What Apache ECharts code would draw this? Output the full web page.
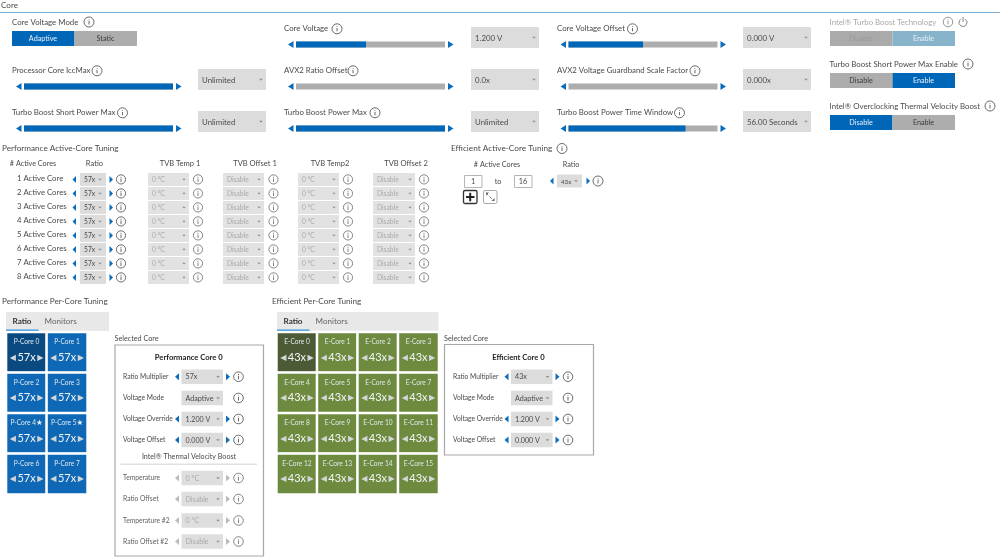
<!DOCTYPE html>
<html><head><meta charset="utf-8">
<style>html,body{margin:0;padding:0;background:#fff}#c{width:1000px;height:560px;filter:blur(.4px)}</style>
<script src="https://cdn.jsdelivr.net/npm/echarts@6/dist/echarts.min.js"></script>
</head><body><div id="c"></div>
<script>
// ---------- content ----------
const sliderNames = ['Core Voltage','Processor Core IccMax','AVX2 Ratio Offset','Turbo Boost Short Power Max','Turbo Boost Power Max','Core Voltage Offset','AVX2 Voltage Guardband Scale Factor','Turbo Boost Power Time Window'];
const sliderFill = [47,100,0,100,100,50,0,78.5];
const sliderChoice = ['1.200 V','Unlimited','0.0x','Unlimited','Unlimited','0.000 V','0.000x','56.00 Seconds'];
const toggleNames = ['Intel® Turbo Boost Technology','Turbo Boost Short Power Max Enable','Intel® Overclocking Thermal Velocity Boost'];
const activeCoreNames = ['1 Active Core','2 Active Cores','3 Active Cores','4 Active Cores','5 Active Cores','6 Active Cores','7 Active Cores','8 Active Cores'];
const activeCoreRatios = ['57x','57x','57x','57x','57x','57x','57x','57x'];
const activeHeaders = ['TVB Temp 1','TVB Offset 1','TVB Temp2','TVB Offset 2'];
const activeDisabled = ['0 °C','Disable','0 °C','Disable'];
const pCoreNames = ['P-Core 0','P-Core 1','P-Core 2','P-Core 3','P-Core 4★','P-Core 5★','P-Core 6','P-Core 7'];
const pCoreRatios = [57,57,57,57,57,57,57,57];
const eCoreNames = ['E-Core 0','E-Core 1','E-Core 2','E-Core 3','E-Core 4','E-Core 5','E-Core 6','E-Core 7','E-Core 8','E-Core 9','E-Core 10','E-Core 11','E-Core 12','E-Core 13','E-Core 14','E-Core 15'];
const eCoreRatios = [43,43,43,43,43,43,43,43,43,43,43,43,43,43,43,43];
const panelRowNames = ['Ratio Multiplier','Voltage Mode','Voltage Override','Voltage Offset'];
const tvbRowNames = ['Temperature','Ratio Offset','Temperature #2','Ratio Offset #2'];
const tvbRowValues = ['0 °C','Disable','0 °C','Disable'];

// ---------- layout and style ----------
const FONT = 'Lato,"Noto Sans",sans-serif', FS=.87;
const BLUE='#0067b8', GREY='#adadad', DROP='#dcdcdc', INK='#4a4a4a', FAINT='#a8a8a8', ARROW='#0a6cbc';
const els=[];
const T=(s,x,y,o={})=>els.push({type:'text',silent:true,z:10,style:{text:s,x,y,fill:o.c||INK,textAlign:o.a||'left',textVerticalAlign:'middle',font:`${o.w||'normal'} ${(o.s||9)*FS}px ${FONT}`}});
const R=(x,y,w,h,fill,o={})=>els.push({type:'rect',silent:true,z:o.z||2,shape:{x,y,width:w,height:h,r:o.r||0},style:{fill,stroke:o.stroke||null,lineWidth:o.lw||1}});
const P=(pts,fill)=>els.push({type:'polygon',silent:true,z:4,shape:{points:pts},style:{fill}});
const L=(x,y,dir,h,w,fill)=>P(dir<0?[[x,y],[x+w,y-h/2],[x+w,y+h/2]]:[[x+w,y],[x,y-h/2],[x,y+h/2]],fill);
const I=(cx,cy,r=5,c='#5a5a5a')=>{
  els.push({type:'circle',silent:true,z:4,shape:{cx,cy,r},style:{fill:'#fff',stroke:c,lineWidth:.9}});
  R(cx-.45,cy-.9,.9,3.4,c,{z:5}); R(cx-.45,cy-2.6,.9,.9,c,{z:5});
};
const Drop=(x,cy,w,h,s,o={})=>{
  R(x,cy-h/2,w,h,o.fill||DROP);
  T(s,x+(o.pad||4),cy+.5,{c:o.c||INK,s:o.s||9});
  const k=x+w-(o.car||7.5);
  P([[k-1.7,cy-.7],[k+1.7,cy-.7],[k,cy+1.2]],o.carc||'#8d8d8d');
};
const Toggle=(x,y,a,b,on,o={})=>{
  const c=o.disabled;
  R(x,y,62.5,15,on===0?BLUE:(c?'#aaaaaa':GREY));
  R(x+62.5,y,62.5,15,on===1?(c?'#87b3cb':BLUE):GREY);
  T(a,x+31,y+7.8,{a:'center',c:on===0?'#e8f0f8':(c?'#999':'#3a3a3a'),s:8.3});
  T(b,x+93.5,y+7.8,{a:'center',c:on===1?'#e8f0f8':'#3a3a3a',s:8.3});
};

// header
T('Core',1,5,{s:9.3});
R(0,12,1000,1,'#7fb2dc');
T('Core Voltage Mode',12,22); I(89,22);
Toggle(12,31,'Adaptive','Static',0);

// sliders: anchors give label row, left of the bar, dropdown and info icon
const sliderAnchors=[
 {x:284,cy:28.5,bar:296,drop:471,info:337},
 {x:12,cy:70.5,bar:24,drop:198,info:97},
 {x:284,cy:70.5,bar:296,drop:471,info:353},
 {x:12,cy:112.5,bar:24,drop:198,info:122.5},
 {x:284,cy:112.5,bar:296,drop:471,info:375},
 {x:557,cy:28.5,bar:568.5,drop:743,info:632.5},
 {x:557,cy:70.5,bar:568.5,drop:743,info:695},
 {x:557,cy:112.5,bar:568.5,drop:743,info:679.5}];
const grids=[],xAxes=[],yAxes=[],series=[];
sliderNames.forEach((n,i)=>{
  const a=sliderAnchors[i], by=a.cy+16;
  T(n,a.x,a.cy); I(a.info,a.cy+.3);
  L(a.bar-8,by,-1,7,5.5,ARROW); L(a.bar+152,by,1,7,5.5,ARROW);
  Drop(a.drop,a.cy+9,68,21,sliderChoice[i],{car:5});
  grids.push({left:a.bar,top:by-3,width:149,height:6});
  xAxes.push({gridIndex:i,type:'value',min:0,max:100,show:false});
  yAxes.push({gridIndex:i,type:'category',data:[n],show:false});
  series.push({type:'bar',xAxisIndex:i,yAxisIndex:i,data:[sliderFill[i]],barWidth:6,silent:true,showBackground:true,backgroundStyle:{color:GREY},itemStyle:{color:BLUE},animation:false});
});

// toggles
T(toggleNames[0],829.5,22,{c:FAINT}); I(948,22,4.8,'#888');
els.push({type:'arc',silent:true,z:4,shape:{cx:963,cy:22.5,r:4,startAngle:-Math.PI/2+.6,endAngle:-Math.PI/2-.6+Math.PI*2},style:{stroke:'#777',fill:null,lineWidth:.9}});
R(962.6,17,.9,5,'#777',{z:5});
Toggle(830,31,'Disable','Enable',1,{disabled:true});
T(toggleNames[1],829.5,64); I(968,64);
Toggle(830,73,'Disable','Enable',1);
T(toggleNames[2],829.5,106); I(990,106);
Toggle(830,115,'Disable','Enable',0);

// performance active-core table
T('Performance Active-Core Tuning',2,148.5,{s:9.4});
T('# Active Cores',33,164,{a:'center',s:8.3});
T('Ratio',94.5,164,{a:'center',s:8.7});
const colX=[148,223,298,373], colW=[41,41,41,42], colInfo=[198,273.5,348,424], colHead=[180,255,330,406];
activeHeaders.forEach((h,i)=>T(h,colHead[i],164,{a:'center',s:8.7}));
activeCoreNames.forEach((n,r)=>{
  const cy=178.7+r*14;
  T(n,17,cy,{s:8.9});
  L(72.5,cy+.7,-1,7,3.5,ARROW); L(109.5,cy+.7,1,7,3.5,ARROW);
  Drop(80,cy+.7,26,13,activeCoreRatios[r],{s:7.7,car:6});
  I(121,cy+.7,4.6);
  activeDisabled.forEach((v,c)=>{
    Drop(colX[c],cy+.7,colW[c],13,v,{s:7.7,c:'#aaa',fill:'#e2e2e2',car:5});
    I(colInfo[c],cy+.7,4.6,'#777');
  });
});

// efficient active-core
T('Efficient Active-Core Tuning',451,148.5,{s:9.5}); I(562,148.5);
T('# Active Cores',497,165,{a:'center',s:8.3});
T('Ratio',571,165,{a:'center',s:8.3});
R(464.5,175.5,17.5,12,'#fff',{stroke:'#b5b5b5'}); T('1',473,181.5,{a:'center',s:8.3});
T('to',498,181.5,{a:'center',s:8.3});
R(514.5,175.5,17.5,12,'#fff',{stroke:'#b5b5b5'}); T('16',523,181.5,{a:'center',s:8.3});
L(550,181,-1,7,3.5,ARROW); L(586.5,181,1,7,3.5,ARROW);
Drop(557,181,25,13,'43x',{s:7.2,car:6}); I(598,181);
R(463.5,190.5,13.5,13,'#fff',{stroke:'#333',lw:1.3,r:1.5});
R(466,196,8.5,2,'#222',{z:5}); R(469.2,192.8,2,8.5,'#222',{z:5});
R(483.5,190.5,13.5,13,'#fff',{stroke:'#aaa',r:1.5});
els.push({type:'line',silent:true,z:5,shape:{x1:486,y1:193,x2:494,y2:201},style:{stroke:'#666',lineWidth:.9,lineDash:[3,2]}});
P([[486,192.5],[489,192.5],[486,195.5]],'#666'); P([[494.5,201],[491.5,201],[494.5,198]],'#666');

// per-core sections
function tabs(title,tx,x,w){
  T(title,tx,301.5,{s:9.4});
  R(x,312,w,19,'#e8e8e8');
  T('Ratio',x+6.5,321,{w:'700',s:9.3,c:'#333'});
  T('Monitors',x+38.5,321,{s:9.3,c:'#666'});
  R(x,329.5,32.5,1.3,'#2f95dd',{z:3});
}
tabs('Performance Per-Core Tuning',2,6,103);
tabs('Efficient Per-Core Tuning',272,277,161.5);

function panel(title,x,y,w,h){
  T('Selected Core',x,339,{s:8.3});
  R(x+.5,y,w,h,'#fff',{stroke:'#a8a8a8',lw:1.2,z:1});
  T(title,x+w/2,357.7,{a:'center',w:'700',s:8.8,c:'#222'});
}
function row(name,value,cy,lx,ax,o={}){
  T(name,lx,cy,{s:7.7,c:o.dim?'#5f5f5f':INK});
  const ac=o.dim?'#bbb':ARROW;
  if(!o.noArrows){L(ax,cy,-1,7,4,ac);L(ax+51,cy,1,7,4,ac);}
  Drop(ax+6.5,cy,41.5,14.5,value,{s:8.2,c:o.dim?'#aaa':INK,fill:o.dim?'#dedede':DROP,car:5});
  I(ax+63.5,cy,4.8,o.dim?'#777':'#5a5a5a');
}
panel('Performance Core 0',114.5,345,148.5,211);
[376.7,398,419,440].forEach((cy,i)=>row(panelRowNames[i],['57x','Adaptive','1.200 V','0.000 V'][i],cy,123,175,{noArrows:i===1}));
T('Intel® Thermal Velocity Boost',189,457,{a:'center',s:8.2});
R(120.5,463.7,136.5,.9,'#c4c4c4');
[478,499,520.5,541.5].forEach((cy,i)=>row(tvbRowNames[i],tvbRowValues[i],cy,123,175,{dim:true}));
panel('Efficient Core 0',444,344.5,149,110.5);
[376.7,398,419,440].forEach((cy,i)=>row(panelRowNames[i],['43x','Adaptive','1.200 V','0.000 V'][i],cy,453,504.5,{noArrows:i===1}));

// core tiles: heatmaps on category axes
function tiles(names,vals,cols,left,base,sel){
  const g=grids.length, rows=names.length/cols;
  grids.push({left,top:332.2,width:cols*40.5,height:rows*40.5});
  xAxes.push({gridIndex:g,type:'category',show:false,data:[...Array(cols).keys()]});
  yAxes.push({gridIndex:g,type:'category',show:false,inverse:true,data:[...Array(rows).keys()]});
  series.push({type:'heatmap',xAxisIndex:g,yAxisIndex:g,silent:true,animation:false,
    itemStyle:{borderColor:'#fff',borderWidth:2.5},
    data:vals.map((v,i)=>({value:[i%cols,Math.floor(i/cols),v],name:names[i],itemStyle:{color:i===0?sel:base,borderColor:'#fff',borderWidth:2.5}})),
    label:{show:true,offset:[0,-2],fontFamily:FONT,
      formatter:p=>{
        const nm=p.name.endsWith('★')?`{n|${p.name.slice(0,-1)}}{s|★}`:`{n|${p.name}}`;
        return `${nm}\n{a|◀}{v|${p.value[2]}x}{a|▶}`;
      },
      rich:{n:{fontSize:6.6,lineHeight:14,color:'#dfe7ee',fontFamily:FONT},
            s:{fontSize:7.5,lineHeight:14,color:'#eef2f5',fontFamily:'DejaVu Sans'},
            v:{fontSize:11,lineHeight:17,color:'#f4f6f8',fontFamily:FONT,padding:[0,1.5]},
            a:{fontSize:8,lineHeight:17,color:'#d2d6d8',fontFamily:'DejaVu Sans'}}}});
}
tiles(pCoreNames,pCoreRatios,2,6.3,'#0e68b5','#0b4a80');
tiles(eCoreNames,eCoreRatios,4,276.7,'#6d8a3e','#4d5a36');

const chart=echarts.init(document.getElementById('c'),null,{renderer:'canvas'});
chart.setOption({animation:false,backgroundColor:'#fff',grid:grids,xAxis:xAxes,yAxis:yAxes,series,graphic:{elements:els}});
</script></body></html>
